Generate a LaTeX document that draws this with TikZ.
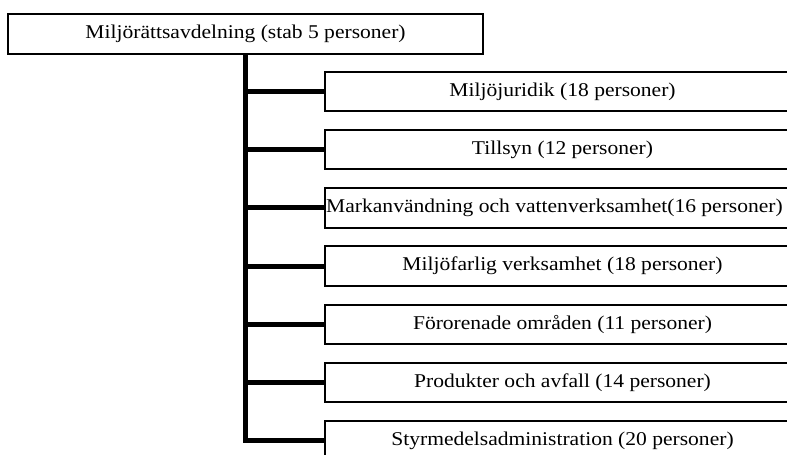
\documentclass[tikz,border=0pt]{standalone}
\usepackage{fontspec}
\setmainfont[FakeStretch=1.105]{Liberation Serif}
\begin{document}
\begin{tikzpicture}[x=1pt,y=-1pt,
  orgbox/.style={draw=black,line width=2pt,fill=white,minimum width=475pt,minimum height=39.5pt,inner sep=0pt,font=\fontsize{19.5}{22}\selectfont},
  trunk/.style={line width=5pt},
  branch/.style={line width=5pt}]
\useasboundingbox (0,0) rectangle (787,455);
\clip (0,0) rectangle (787,455);
\node[orgbox] (top) at (245.5,34) {Miljörättsavdelning (stab 5 personer)};
\node[orgbox] (c1) at (562.5,91.5) {Miljöjuridik (18 personer)};
\node[orgbox] (c2) at (562.5,149.7) {Tillsyn (12 personer)};
\node[orgbox] (c3) at (562.5,207.9) {\hspace*{-16pt}Markanvändning och vattenverksamhet(16 personer)};
\node[orgbox] (c4) at (562.5,266.1) {Miljöfarlig verksamhet (18 personer)};
\node[orgbox] (c5) at (562.5,324.3) {Förorenade områden (11 personer)};
\node[orgbox] (c6) at (562.5,382.5) {Produkter och avfall (14 personer)};
\node[orgbox] (c7) at (562.5,440.7) {Styrmedelsadministration (20 personer)};
\draw[trunk] (top.south) |- (c7.west);
\foreach \c in {c1,c2,c3,c4,c5,c6}{
  \draw[branch] (top.south |- \c.west) -- (\c.west);
}
\end{tikzpicture}
\end{document}
